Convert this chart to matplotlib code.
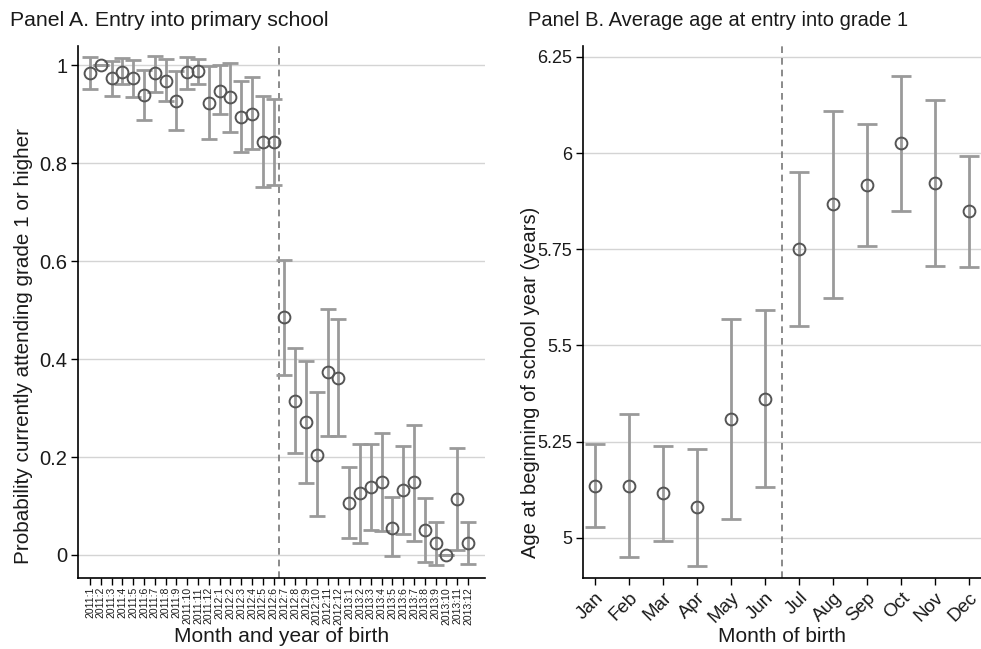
import numpy as np
import matplotlib.pyplot as plt

plt.rcParams['font.family'] = ['Liberation Sans', 'DejaVu Sans']

# Panel A: share attending grade 1 or higher, by month and year of birth
birth_labels = [f"{y}:{m}" for y in (2011, 2012, 2013) for m in range(1, 13)]
attend = [0.983, 1.000, 0.973, 0.986, 0.973, 0.939, 0.983, 0.968, 0.927, 0.985,
          0.987, 0.922, 0.948, 0.934, 0.894, 0.901, 0.843, 0.843,
          0.485, 0.314, 0.271, 0.205, 0.373, 0.362, 0.107, 0.126, 0.138, 0.148,
          0.056, 0.133, 0.148, 0.050, 0.024, 0.000, 0.114, 0.024]
attend_lo = [0.951, 1.000, 0.937, 0.961, 0.934, 0.888, 0.946, 0.927, 0.867, 0.952,
             0.961, 0.849, 0.900, 0.864, 0.822, 0.829, 0.752, 0.755,
             0.367, 0.208, 0.146, 0.080, 0.243, 0.243, 0.034, 0.024, 0.050, 0.049,
             -0.003, 0.043, 0.029, -0.014, -0.021, 0.000, 0.010, -0.018]
attend_hi = [1.017, 1.000, 1.009, 1.015, 1.010, 0.990, 1.018, 1.012, 0.988, 1.016,
             1.012, 0.998, 1.000, 1.005, 0.968, 0.975, 0.937, 0.931,
             0.603, 0.422, 0.396, 0.332, 0.503, 0.481, 0.180, 0.227, 0.227, 0.250,
             0.119, 0.222, 0.265, 0.116, 0.068, 0.000, 0.218, 0.068]

# Panel B: average age at entry into grade 1, by month of birth
months = ["Jan", "Feb", "Mar", "Apr", "May", "Jun",
          "Jul", "Aug", "Sep", "Oct", "Nov", "Dec"]
age = [5.136, 5.136, 5.116, 5.080, 5.309, 5.362,
       5.750, 5.867, 5.917, 6.025, 5.922, 5.849]
age_lo = [5.028, 4.950, 4.991, 4.927, 5.050, 5.132,
          5.551, 5.624, 5.759, 5.849, 5.707, 5.704]
age_hi = [5.243, 5.321, 5.240, 5.232, 5.568, 5.592,
          5.951, 6.109, 6.076, 6.201, 6.138, 5.993]

a_ticks = [0, 0.2, 0.4, 0.6, 0.8, 1]
a_ticklabels = ["0", "0.2", "0.4", "0.6", "0.8", "1"]
b_ticks = [5, 5.25, 5.5, 5.75, 6, 6.25]
b_ticklabels = ["5", "5.25", "5.5", "5.75", "6", "6.25"]

bar_col = '#9a9a9a'
pt_col = '#555555'
txt_col = '#1a1a1a'


def draw_panel(ax, vals, lo, hi, capsize):
    x = np.arange(len(vals))
    vals = np.array(vals)
    yerr = [vals - np.array(lo), np.array(hi) - vals]
    ax.errorbar(x, vals, yerr=yerr, fmt='none', ecolor=bar_col,
                elinewidth=2.0, capsize=capsize, capthick=2.0, zorder=2)
    ax.plot(x, vals, 'o', ms=8.5, mfc='none', mec=pt_col, mew=1.4, zorder=3)
    ax.yaxis.grid(True, color='#d4d4d4', lw=1.0, zorder=0)
    ax.set_axisbelow(True)
    for s in ('top', 'right'):
        ax.spines[s].set_visible(False)
    for s in ('left', 'bottom'):
        ax.spines[s].set_linewidth(1.2)
    ax.tick_params(direction='out', length=5, width=1.0, pad=3, labelcolor=txt_col)
    return x


fig = plt.figure(figsize=(9.81, 6.49), dpi=100)

axA = fig.add_axes([0.0798, 0.1094, 0.4146, 0.8197])
xa = draw_panel(axA, attend, attend_lo, attend_hi, capsize=6)
axA.axvline(17.5, color='#777777', ls=(0, (4, 3)), lw=1.2, zorder=1)
axA.set_xlim(-1.08, 36.57)
axA.set_ylim(-0.047, 1.039)
axA.set_yticks(a_ticks)
axA.set_yticklabels(a_ticklabels, fontsize=14.5)
axA.set_xticks(xa)
axA.set_xticklabels(birth_labels, rotation=90, fontsize=7.5)
axA.tick_params(axis='x', pad=1.5)
axA.set_ylabel("Probability currently attending grade 1 or higher",
               fontsize=14.9, color=txt_col)
axA.yaxis.set_label_coords(-0.111, 0.436)
axA.set_xlabel("Month and year of birth", fontsize=15, color=txt_col)
axA.xaxis.set_label_coords(0.5, -0.092)

axB = fig.add_axes([0.5943, 0.1094, 0.4057, 0.8197])
xb = draw_panel(axB, age, age_lo, age_hi, capsize=7)
axB.axvline(5.5, color='#777777', ls=(0, (4, 3)), lw=1.2, zorder=1)
axB.set_xlim(-0.35, 11.35)
axB.set_ylim(4.896, 6.278)
axB.set_yticks(b_ticks)
axB.set_yticklabels(b_ticklabels, fontsize=13)
axB.set_xticks(xb)
axB.set_xticklabels(months, rotation=45, ha='right', rotation_mode='anchor', fontsize=13.5)
axB.set_ylabel("Age at beginning of school year (years)", fontsize=14.5, color=txt_col)
axB.yaxis.set_label_coords(-0.108, 0.367)
axB.set_xlabel("Month of birth", fontsize=15, color=txt_col)
axB.xaxis.set_label_coords(0.5, -0.092)

fig.text(10 / 981, 1 - 20 / 649, "Panel A. Entry into primary school",
         fontsize=15.3, va='center', ha='left', color=txt_col)
fig.text(528 / 981, 1 - 20 / 649, "Panel B. Average age at entry into grade 1",
         fontsize=14.5, va='center', ha='left', color=txt_col)

fig.savefig("out.png", dpi=100)
